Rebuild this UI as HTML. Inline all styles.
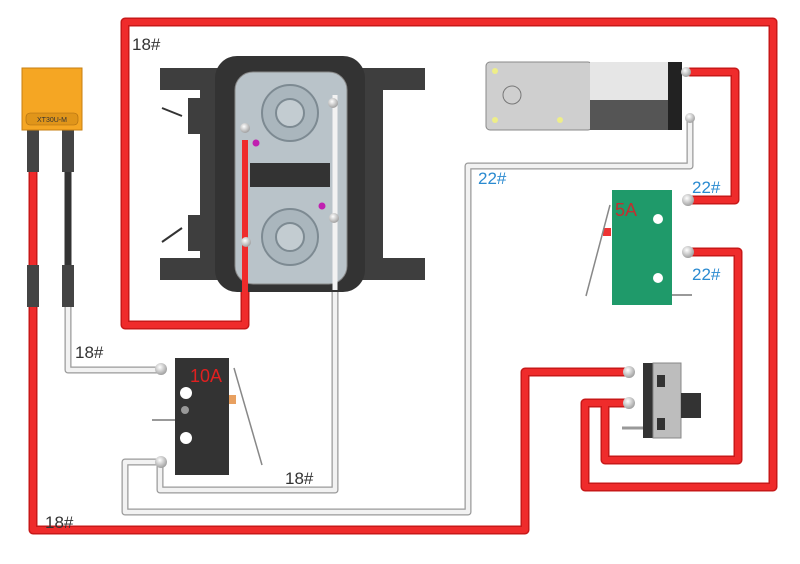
<!DOCTYPE html>
<html><head><meta charset="utf-8"><style>
html,body{margin:0;padding:0;background:#fff;}
svg{display:block;}
text{font-family:"Liberation Sans",sans-serif;}
</style></head><body>
<svg width="800" height="564" viewBox="0 0 800 564" xmlns="http://www.w3.org/2000/svg">
<defs>
<radialGradient id="ball" cx="0.4" cy="0.35" r="0.7"><stop offset="0" stop-color="#fff"/><stop offset="1" stop-color="#999"/></radialGradient>
</defs>
<g fill="none" stroke-linejoin="round" stroke-linecap="round">
<g stroke="#9a9a9a" stroke-width="7">
<path d="M68 300 V370 H160"/>
<path d="M160 462 H125 V512 H468 V166 H690 V120"/>
<path d="M160 462 V490 H335 V95"/>
</g>
<g stroke="#f2f2f2" stroke-width="4.5">
<path d="M68 300 V370 H160"/>
<path d="M160 462 H125 V512 H468 V166 H690 V120"/>
<path d="M160 462 V490 H335 V95"/>
</g>
<g stroke="#c81818" stroke-width="9">
<path d="M245 140 V325 H125 V22 H773 V487 H585 V403 H628"/>
<path d="M33 130 V530 H525 V372 H628"/>
<path d="M690 72 H735 V200 H690"/>
<path d="M690 252 H738 V460 H605 V403"/>
</g>
<g stroke="#ef2b2b" stroke-width="6">
<path d="M245 140 V325 H125 V22 H773 V487 H585 V403 H628"/>
<path d="M33 130 V530 H525 V372 H628"/>
<path d="M690 72 H735 V200 H690"/>
<path d="M690 252 H738 V460 H605 V403"/>
</g>
<path d="M68 130 V300" stroke="#333" stroke-width="7"/>
</g>
<rect x="27" y="130" width="12" height="42" fill="#444"/>
<rect x="62" y="130" width="12" height="42" fill="#444"/>
<rect x="27" y="265" width="12" height="42" fill="#444"/>
<rect x="62" y="265" width="12" height="42" fill="#444"/>
<rect x="22" y="68" width="60" height="62" fill="#f5a623" stroke="#c77f10"/>
<rect x="26" y="113" width="52" height="12" rx="4" fill="#e0951a" stroke="#a86a10" stroke-width="0.6"/>
<text x="52" y="122" font-size="7" text-anchor="middle" fill="#333">XT30U-M</text>
<rect x="160" y="68" width="265" height="22" fill="#3e3e3e"/>
<rect x="160" y="258" width="265" height="22" fill="#3e3e3e"/>
<rect x="188" y="98" width="30" height="36" fill="#3e3e3e"/>
<rect x="188" y="215" width="30" height="36" fill="#3e3e3e"/>
<rect x="365" y="90" width="18" height="168" fill="#3e3e3e"/>
<rect x="200" y="90" width="20" height="168" fill="#3e3e3e"/>
<rect x="215" y="56" width="150" height="236" rx="22" fill="#333"/>
<rect x="235" y="72" width="112" height="212" rx="18" fill="#b9c3c9" stroke="#888"/>
<rect x="250" y="163" width="80" height="24" fill="#333"/>
<circle cx="290" cy="113" r="28" fill="#aab6bd" stroke="#7d8a92" stroke-width="2"/>
<circle cx="290" cy="113" r="14" fill="#c3ccd1" stroke="#7d8a92" stroke-width="2"/>
<circle cx="290" cy="237" r="28" fill="#aab6bd" stroke="#7d8a92" stroke-width="2"/>
<circle cx="290" cy="237" r="14" fill="#c3ccd1" stroke="#7d8a92" stroke-width="2"/>
<circle cx="256" cy="143" r="3.5" fill="#c020b0"/>
<circle cx="322" cy="206" r="3.5" fill="#c020b0"/>
<path d="M162 108 L182 116 M162 242 L182 228" stroke="#333" stroke-width="2"/>
<path d="M245 140 V325" stroke="#ef2b2b" stroke-width="6"/>
<path d="M335 95 V290" stroke="#f2f2f2" stroke-width="5"/>
<circle cx="245" cy="128" r="5" fill="url(#ball)"/>
<circle cx="333" cy="103" r="5" fill="url(#ball)"/>
<circle cx="246" cy="242" r="5" fill="url(#ball)"/>
<circle cx="334" cy="218" r="5" fill="url(#ball)"/>
<rect x="486" y="62" width="106" height="68" rx="4" fill="#cfcfcf" stroke="#888"/>
<circle cx="495" cy="71" r="3" fill="#ee8"/><circle cx="495" cy="120" r="3" fill="#ee8"/><circle cx="560" cy="120" r="3" fill="#ee8"/>
<circle cx="512" cy="95" r="9" fill="none" stroke="#777"/>
<rect x="590" y="62" width="80" height="38" fill="#e6e6e6"/>
<rect x="590" y="100" width="80" height="30" fill="#555"/>
<rect x="668" y="62" width="14" height="68" fill="#222"/>
<circle cx="686" cy="72" r="5" fill="url(#ball)"/>
<circle cx="690" cy="118" r="5" fill="url(#ball)"/>
<rect x="612" y="190" width="60" height="115" fill="#1f9a6a"/>
<circle cx="658" cy="219" r="5" fill="#fff"/><circle cx="658" cy="278" r="5" fill="#fff"/>
<rect x="603" y="228" width="8" height="8" fill="#e33"/>
<path d="M610 205 L586 296" stroke="#888" stroke-width="1.5"/>
<path d="M672 295 H692" stroke="#999" stroke-width="2"/>
<circle cx="688" cy="200" r="6" fill="url(#ball)"/>
<circle cx="688" cy="252" r="6" fill="url(#ball)"/>
<rect x="175" y="358" width="54" height="117" fill="#333"/>
<circle cx="186" cy="393" r="6" fill="#fff"/><circle cx="185" cy="410" r="4" fill="#999"/><circle cx="186" cy="438" r="6" fill="#fff"/>
<rect x="229" y="395" width="7" height="9" fill="#e8a060"/>
<path d="M234 368 L262 465" stroke="#888" stroke-width="1.5"/>
<path d="M152 420 H175" stroke="#999" stroke-width="2"/>
<circle cx="161" cy="369" r="6" fill="url(#ball)"/>
<circle cx="161" cy="462" r="6" fill="url(#ball)"/>
<rect x="643" y="363" width="10" height="75" fill="#333"/>
<rect x="653" y="363" width="28" height="75" fill="#bdbdbd" stroke="#888"/>
<rect x="681" y="393" width="20" height="25" fill="#333"/>
<rect x="657" y="375" width="8" height="12" fill="#333"/><rect x="657" y="418" width="8" height="12" fill="#333"/>
<path d="M622 428 H643" stroke="#999" stroke-width="3"/>
<circle cx="629" cy="372" r="6" fill="url(#ball)"/>
<circle cx="629" cy="403" r="6" fill="url(#ball)"/>
<g font-size="17" fill="#333">
<text x="132" y="50">18#</text>
<text x="75" y="358">18#</text>
<text x="285" y="484">18#</text>
<text x="45" y="528">18#</text>
</g>
<g font-size="17" fill="#2a8ad0">
<text x="478" y="184">22#</text>
<text x="692" y="193">22#</text>
<text x="692" y="280">22#</text>
</g>
<text x="190" y="382" font-size="18" fill="#e02020">10A</text>
<text x="615" y="216" font-size="18" fill="#c03030">5A</text>
</svg>
</body></html>
